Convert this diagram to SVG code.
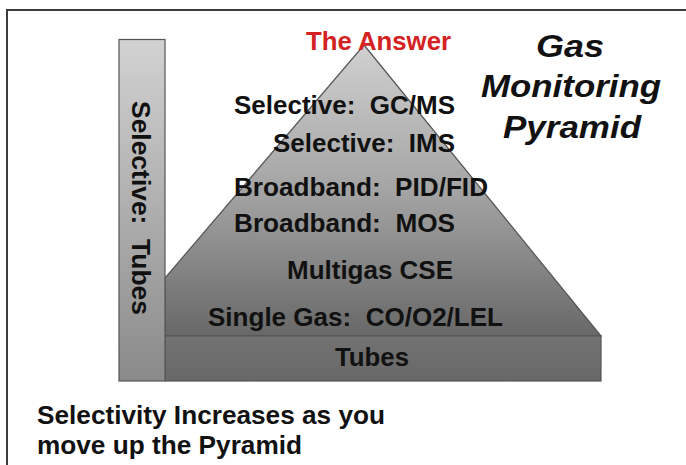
<svg xmlns="http://www.w3.org/2000/svg" width="686" height="465" viewBox="0 0 686 465">
  <defs>
    <linearGradient id="gBar" x1="0" y1="0" x2="0" y2="1">
      <stop offset="0" stop-color="#d2d2d2"/>
      <stop offset="1" stop-color="#8a8a8a"/>
    </linearGradient>
    <linearGradient id="gPyr" x1="0" y1="45" x2="0" y2="336" gradientUnits="userSpaceOnUse">
      <stop offset="0" stop-color="#d0d0d0"/>
      <stop offset="0.5" stop-color="#a4a4a4"/>
      <stop offset="1" stop-color="#686868"/>
    </linearGradient>
    <linearGradient id="gBase" x1="0" y1="0" x2="0" y2="1">
      <stop offset="0" stop-color="#727272"/>
      <stop offset="1" stop-color="#686868"/>
    </linearGradient>
  </defs>
  <style>
    text { font-family: "Liberation Sans", Arial, sans-serif; font-weight: bold; fill: #111; white-space: pre; }
    .lbl { font-size: 26.5px; }
    .title { font-size: 31px; font-style: italic; text-anchor: middle; }
    .note { font-size: 25px; }
    .shape { stroke: #555; stroke-width: 1.2; }
  </style>
  <rect width="686" height="465" fill="#ffffff"/>
  <g id="frame">
    <path d="M7,465 V10 H686" fill="none" stroke="#3c3c3c" stroke-width="2"/>
  </g>
  <g id="pyramid">
    <polygon class="shape" points="364,45 601,336 165,336 165,278" fill="url(#gPyr)"/>
  </g>
  <g id="base">
    <rect class="shape" x="165" y="336" width="436" height="45" fill="url(#gBase)"/>
    <text class="lbl" x="335" y="366" textLength="74" lengthAdjust="spacingAndGlyphs">Tubes</text>
  </g>
  <g id="bar">
    <rect class="shape" x="119" y="39.5" width="46" height="341.5" fill="url(#gBar)"/>
    <text class="lbl" transform="translate(132,101) rotate(90)" x="0" y="0" textLength="214" lengthAdjust="spacingAndGlyphs">Selective:  Tubes</text>
  </g>
  <g id="levels">
    <text class="lbl" x="234" y="113.5" textLength="221" lengthAdjust="spacingAndGlyphs">Selective:  GC/MS</text>
    <text class="lbl" x="273" y="152" textLength="182" lengthAdjust="spacingAndGlyphs">Selective:  IMS</text>
    <text class="lbl" x="234" y="195.5" textLength="254" lengthAdjust="spacingAndGlyphs">Broadband:  PID/FID</text>
    <text class="lbl" x="234" y="232" textLength="221" lengthAdjust="spacingAndGlyphs">Broadband:  MOS</text>
    <text class="lbl" x="287" y="278.5" textLength="166" lengthAdjust="spacingAndGlyphs">Multigas CSE</text>
    <text class="lbl" x="208" y="325.5" textLength="295" lengthAdjust="spacingAndGlyphs">Single Gas:  CO/O2/LEL</text>
  </g>
  <g id="answer">
    <text x="306" y="50" font-size="25.5" textLength="145" lengthAdjust="spacingAndGlyphs" style="fill:#d42222">The Answer</text>
  </g>
  <g id="title">
    <text class="title" x="570" y="57" textLength="68" lengthAdjust="spacingAndGlyphs">Gas</text>
    <text class="title" x="571" y="97" textLength="180" lengthAdjust="spacingAndGlyphs">Monitoring</text>
    <text class="title" x="572" y="138" textLength="138" lengthAdjust="spacingAndGlyphs">Pyramid</text>
  </g>
  <g id="note">
    <text class="note" x="37" y="424" textLength="348" lengthAdjust="spacingAndGlyphs">Selectivity Increases as you</text>
    <text class="note" x="37" y="454" textLength="265" lengthAdjust="spacingAndGlyphs">move up the Pyramid</text>
  </g>
</svg>
